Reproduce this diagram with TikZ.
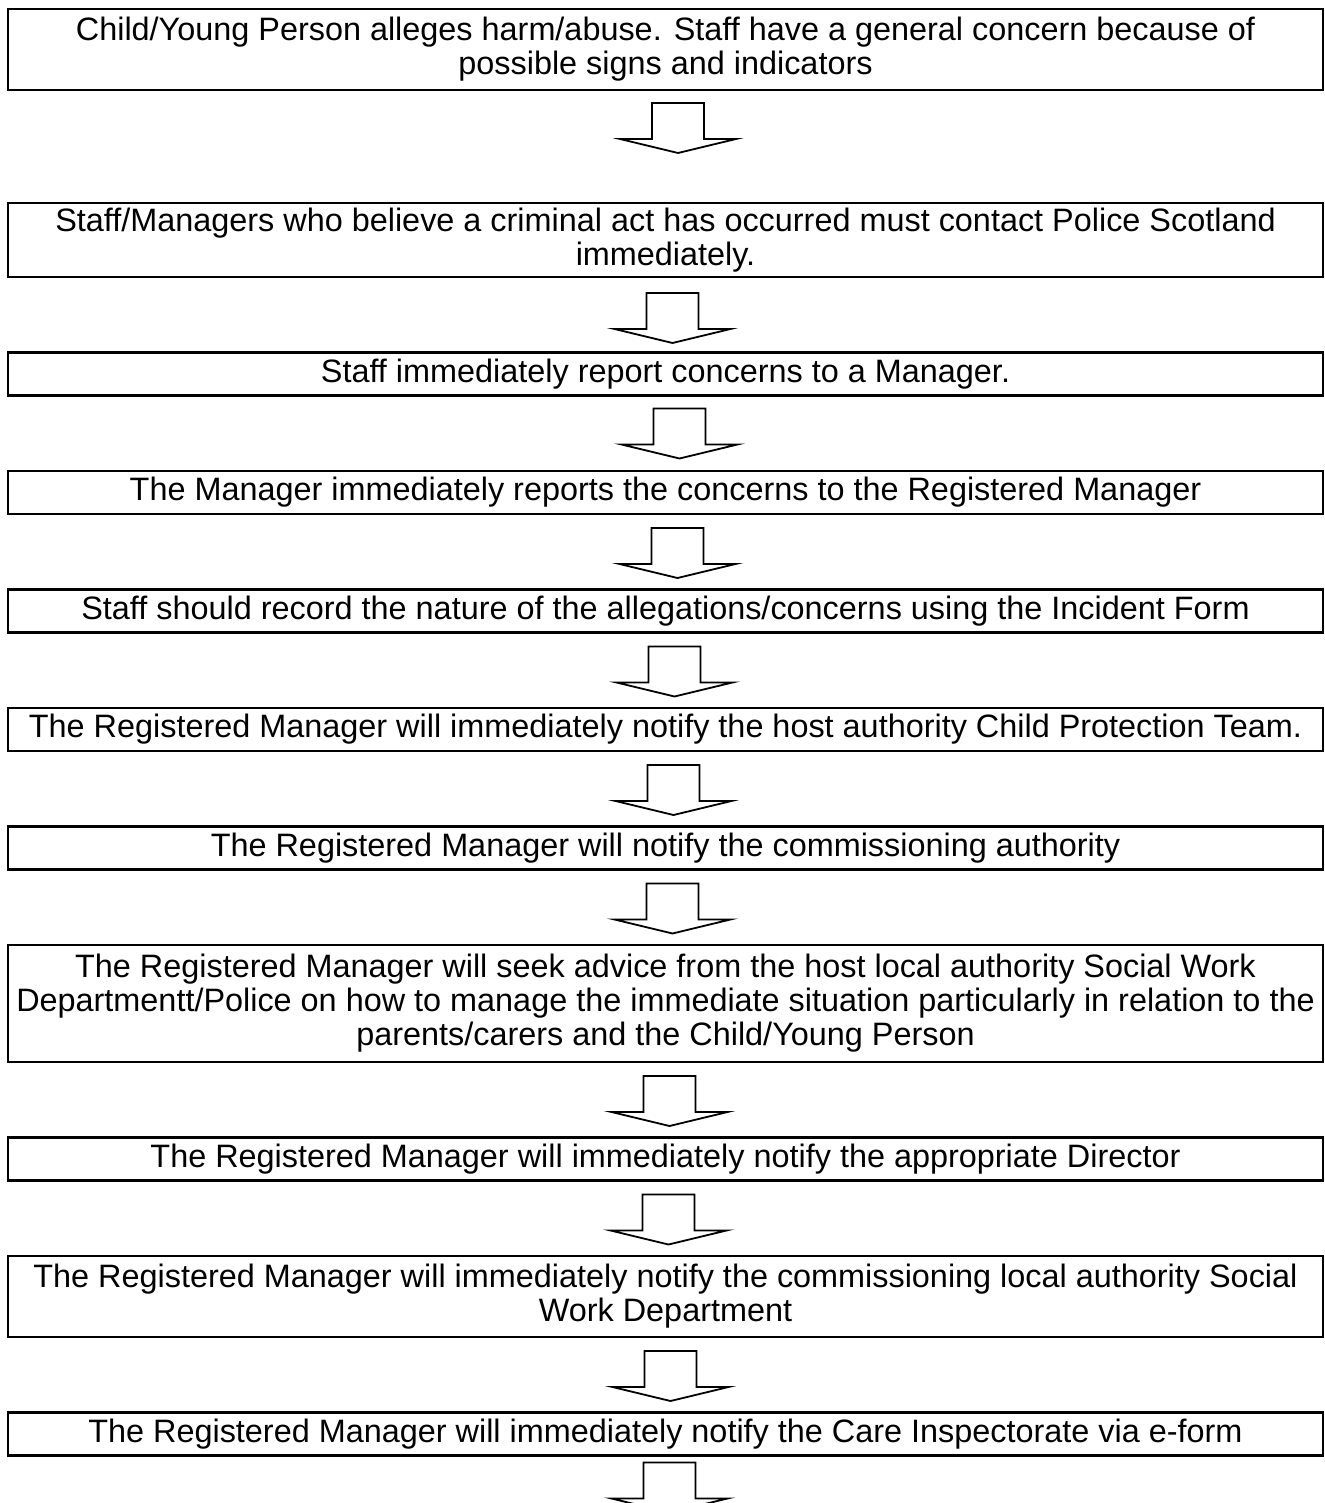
\documentclass[tikz,border=0pt]{standalone}
\usepackage{fontspec}
\setmainfont{Liberation Sans}
\usepackage{tikz}
\usetikzlibrary{positioning, calc}

\begin{document}
\begin{tikzpicture}[x=0.5pt, y=0.5pt,
  stepbox/.style={draw, line width=1.3pt, font=\fontsize{16.2}{17}\selectfont, align=center,
    minimum width=657.5pt, minimum height=21.5pt, inner xsep=2pt, inner ysep=0pt, outer sep=0pt},
  downarr/.pic={\draw[line width=0.9pt, fill=white] (-26,0) -- (26,0) -- (26,-36) -- (58,-36)
    -- (0,-50) -- (-58,-36) -- (-26,-36) -- cycle;}]
  \useasboundingbox (0,0) rectangle (1325,-1503);
  \node[stepbox, minimum height=40.5pt] (b1) at (665.5,-49.5) {Child/Young Person alleges harm/abuse. Staff have a general concern because of\\possible signs and indicators};
  \node[stepbox, minimum height=37pt, below=56.5pt of b1] (b2) {Staff/Managers who believe a criminal act has occurred must contact Police Scotland\\immediately.};
  \node[stepbox, below=37.75pt of b2] (b3) {Staff immediately report concerns to a Manager.};
  \node[stepbox, below=37.75pt of b3] (b4) {The Manager immediately reports the concerns to the Registered Manager};
  \node[stepbox, below=37.75pt of b4] (b5) {Staff should record the nature of the allegations/concerns using the Incident Form};
  \node[stepbox, below=37.75pt of b5] (b6) {The Registered Manager will immediately notify the host authority Child Protection Team.};
  \node[stepbox, below=37.75pt of b6] (b7) {The Registered Manager will notify the commissioning authority};
  \node[stepbox, minimum height=58.5pt, below=37.75pt of b7] (b8) {The Registered Manager will seek advice from the host local authority Social Work\\Departmentt/Police on how to manage the immediate situation particularly in relation to the\\parents/carers and the Child/Young Person};
  \node[stepbox, below=37.75pt of b8] (b9) {The Registered Manager will immediately notify the appropriate Director};
  \node[stepbox, minimum height=40.5pt, below=37.75pt of b9] (b10) {The Registered Manager will immediately notify the commissioning local authority Social\\Work Department};
  \node[stepbox, below=37.75pt of b10] (b11) {The Registered Manager will immediately notify the Care Inspectorate via e-form};
  % block arrows between the steps
  \pic at ($(b1.south)+(12.5,-13)$) {downarr};
  \pic at ($(b2.south)+(7,-16)$) {downarr};
  \pic at ($(b3.south)+(14,-13)$) {downarr};
  \pic at ($(b4.south)+(12,-14)$) {downarr};
  \pic at ($(b5.south)+(9,-14)$) {downarr};
  \pic at ($(b6.south)+(8,-14)$) {downarr};
  \pic at ($(b7.south)+(7,-14)$) {downarr};
  \pic at ($(b8.south)+(4,-14)$) {downarr};
  \pic at ($(b9.south)+(3,-14)$) {downarr};
  \pic at ($(b10.south)+(5,-14)$) {downarr};
  \pic at ($(b11.south)+(4,-7)$) {downarr};
\end{tikzpicture}
\end{document}
